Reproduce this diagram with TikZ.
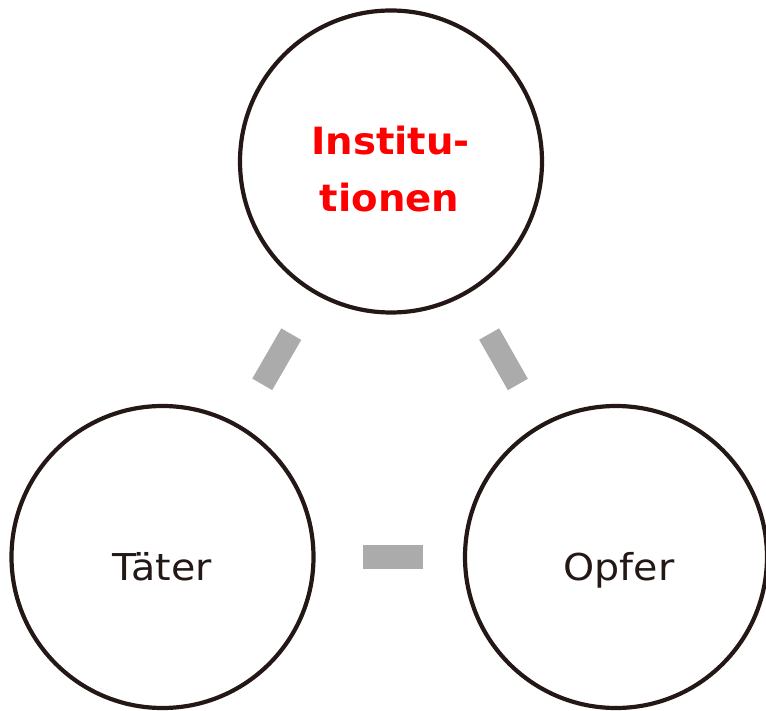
\documentclass[tikz,border=0pt]{standalone}
\usepackage{fontspec}
\setmainfont{DejaVu Sans}
\newfontfamily\lblfont[FakeStretch=1.07]{DejaVu Sans}
\newfontfamily\hlfont[FakeStretch=1.03]{DejaVu Sans Bold}
\begin{document}
\begin{tikzpicture}[x=1pt,y=-1pt,
  ring/.style={circle,draw=ringcol,line width=4.2pt,minimum size=302pt,inner sep=0pt},
  bar/.style={draw=barcol,line width=23pt},
  lbl/.style={anchor=base,inner sep=0pt,text=ringcol,font=\lblfont\fontsize{37}{43}\selectfont},
  hl/.style={anchor=base,inner sep=0pt,text=red,font=\hlfont\fontsize{37.5}{44}\selectfont}]
\definecolor{ringcol}{HTML}{231815}
\definecolor{barcol}{HTML}{ABABAB}
\useasboundingbox (0,0) rectangle (766,711);
\node[ring] (inst) at (391,161.5) {};
\node[ring] (taeter) at (162.5,557) {};
\node[ring] (opfer) at (616,557) {};
\node[hl] (t1) at (390.5,155) {Institu-};
\node[hl] (t2) at (389.5,211.7) {tionen};
\node[lbl] (tl) at (162,580) {Täter};
\node[lbl] (ol) at (619,580) {Opfer};
\draw[bar,shorten <=199.4pt,shorten >=199.4pt] (inst.center) -- (taeter.center);
\draw[bar,shorten <=198.5pt,shorten >=198.5pt] (inst.center) -- (opfer.center);
\draw[bar,line width=24.7pt,shorten <=200.5pt,shorten >=193pt] (taeter.center) -- (opfer.center);
\end{tikzpicture}
\end{document}
